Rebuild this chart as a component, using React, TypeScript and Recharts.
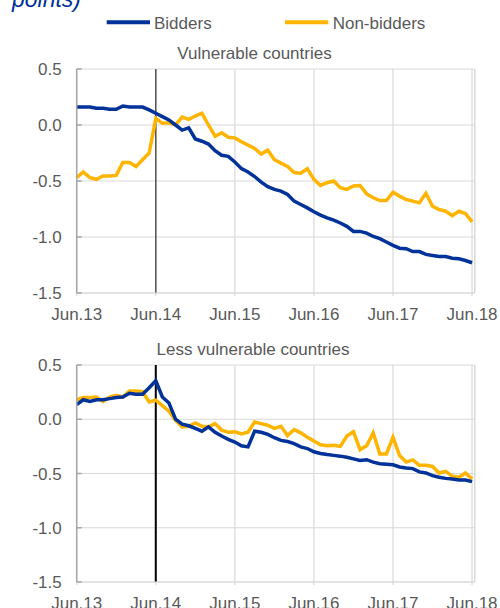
import React from 'react';
import { LineChart, Line, XAxis, YAxis, CartesianGrid, ReferenceLine } from 'recharts';

const xTickMonths = [0, 12, 24, 36, 48, 60];
const xTickLabels = ['Jun.13', 'Jun.14', 'Jun.15', 'Jun.16', 'Jun.17', 'Jun.18'];
const yTicks = [0.5, 0, -0.5, -1, -1.5];

const vulnBidders = [
  0.16, 0.16, 0.16, 0.15, 0.15, 0.14, 0.14, 0.17, 0.16, 0.16, 0.16, 0.135,
  0.105, 0.075, 0.045, 0.0, -0.045, -0.025, -0.125, -0.145, -0.17, -0.23, -0.27, -0.28,
  -0.33, -0.39, -0.42, -0.46, -0.51, -0.55, -0.575, -0.59, -0.62, -0.68, -0.71, -0.74,
  -0.775, -0.805, -0.83, -0.85, -0.875, -0.905, -0.95, -0.95, -0.965, -0.995, -1.015, -1.045,
  -1.075, -1.1, -1.105, -1.13, -1.13, -1.155, -1.165, -1.175, -1.175, -1.19, -1.195, -1.21,
  -1.23,
];
const vulnNonBidders = [
  -0.47, -0.42, -0.47, -0.485, -0.455, -0.455, -0.45, -0.335, -0.335, -0.37, -0.31, -0.25,
  0.06, 0.015, 0.02, 0.0, 0.07, 0.05, 0.08, 0.105, 0.0, -0.1, -0.07, -0.11,
  -0.115, -0.15, -0.18, -0.21, -0.26, -0.225, -0.31, -0.34, -0.37, -0.425, -0.43, -0.39,
  -0.485, -0.54, -0.515, -0.5, -0.56, -0.575, -0.545, -0.54, -0.615, -0.65, -0.675, -0.675,
  -0.6, -0.635, -0.665, -0.68, -0.695, -0.61, -0.725, -0.755, -0.77, -0.81, -0.77, -0.79,
  -0.865,
];
const lessBidders = [
  0.135, 0.18, 0.165, 0.18, 0.18, 0.19, 0.2, 0.205, 0.24, 0.23, 0.23, 0.29,
  0.355, 0.205, 0.15, 0.0, -0.045, -0.06, -0.085, -0.11, -0.07, -0.12, -0.155, -0.185,
  -0.21, -0.245, -0.255, -0.11, -0.12, -0.14, -0.17, -0.195, -0.205, -0.225, -0.255, -0.27,
  -0.3, -0.315, -0.325, -0.333, -0.34, -0.35, -0.365, -0.38, -0.373, -0.395, -0.41, -0.415,
  -0.42, -0.44, -0.45, -0.455, -0.485, -0.495, -0.52, -0.535, -0.545, -0.55, -0.56, -0.56,
  -0.575,
];
const lessNonBidders = [
  0.18, 0.2, 0.2, 0.205, 0.165, 0.205, 0.22, 0.205, 0.26, 0.26, 0.255, 0.16,
  0.175, 0.125, 0.075, -0.01, -0.07, -0.065, -0.035, -0.065, -0.07, -0.04, -0.1, -0.12,
  -0.115, -0.135, -0.12, -0.025, -0.04, -0.055, -0.085, -0.065, -0.15, -0.095, -0.125, -0.165,
  -0.2, -0.235, -0.245, -0.24, -0.25, -0.155, -0.115, -0.28, -0.245, -0.125, -0.32, -0.32,
  -0.165, -0.335, -0.395, -0.375, -0.425, -0.425, -0.435, -0.495, -0.48, -0.525, -0.535, -0.495,
  -0.55,
];

const BLUE = '#003299';
const YELLOW = '#FFB400';
const TEXT = '#595959';
const GRID = '#d9d9d9';
const FONT = '"Liberation Sans", Arial, sans-serif';

const build = (b: number[], n: number[]) => b.map((v, i) => ({ m: i, bidders: v, nonBidders: n[i] }));
const vulnData = build(vulnBidders, vulnNonBidders);
const lessData = build(lessBidders, lessNonBidders);

type PanelProps = {
  data: any[];
  top: number;
  marginTop: number;
  height: number;
  refColor: string;
  refWidth: number;
};

function Panel({ data, top, marginTop, height, refColor, refWidth }: PanelProps) {
  return (
    <div style={{ position: 'absolute', left: 0, top }}>
      <LineChart width={500} height={height} data={data} margin={{ top: marginTop, right: 25.3, bottom: 0, left: 0 }}>
        <CartesianGrid stroke={GRID} strokeWidth={1.2} />
        <XAxis
          dataKey="m"
          type="number"
          domain={[0, 60.4]}
          ticks={xTickMonths}
          interval={0}
          tickFormatter={(v: number) => xTickLabels[xTickMonths.indexOf(v)]}
          tick={{ fill: TEXT, fontSize: 17, fontFamily: FONT }}
          tickSize={3}
          tickMargin={11.7}
          height={30}
          axisLine={{ stroke: GRID, strokeWidth: 1.2 }}
          tickLine={{ stroke: GRID, strokeWidth: 1.2 }}
        />
        <YAxis
          type="number"
          domain={[-1.5, 0.5]}
          ticks={yTicks}
          interval={0}
          tickFormatter={(v: number) => v.toFixed(1)}
          tick={{ fill: TEXT, fontSize: 17, fontFamily: FONT }}
          width={76.7}
          tickSize={-5}
          tickMargin={20}
          axisLine={{ stroke: '#a6a6a6', strokeWidth: 1.5 }}
          tickLine={{ stroke: '#a6a6a6', strokeWidth: 1.5 }}
        />
        <ReferenceLine x={60.4} stroke={GRID} strokeWidth={1.2} />
        <ReferenceLine x={12} stroke={refColor} strokeWidth={refWidth} />
        <Line type="linear" dataKey="nonBidders" stroke={YELLOW} strokeWidth={3.5} dot={false} isAnimationActive={false} />
        <Line type="linear" dataKey="bidders" stroke={BLUE} strokeWidth={3.5} dot={false} isAnimationActive={false} />
      </LineChart>
    </div>
  );
}

export default function App() {
  return (
    <div style={{ position: 'absolute', left: 0, top: 0, width: 500, height: 608, overflow: 'hidden', background: '#fff' }}>
      <Panel data={vulnData} top={0} marginTop={69} height={323} refColor="#595959" refWidth={1.6} />
      <Panel data={lessData} top={330} marginTop={35} height={282} refColor="#000000" refWidth={2} />
      <svg width={500} height={608} style={{ position: 'absolute', left: 0, top: 0, pointerEvents: 'none' }}>
        <text x={12} y={6.5} fill={BLUE} fontSize={23} fontStyle="italic" fontFamily={FONT}>points)</text>
        <line x1={106.7} y1={22.3} x2={150} y2={22.3} stroke={BLUE} strokeWidth={4} />
        <text x={154} y={28.6} fill={TEXT} fontSize={17} fontFamily={FONT}>Bidders</text>
        <line x1={285} y1={22.3} x2={328.3} y2={22.3} stroke={YELLOW} strokeWidth={4} />
        <text x={332.7} y={28.6} fill={TEXT} fontSize={17} fontFamily={FONT}>Non-bidders</text>
        <text x={254.5} y={58.5} fill={TEXT} fontSize={17} fontFamily={FONT} textAnchor="middle">Vulnerable countries</text>
        <text x={253} y={355} fill={TEXT} fontSize={17} fontFamily={FONT} textAnchor="middle">Less vulnerable countries</text>
      </svg>
    </div>
  );
}
